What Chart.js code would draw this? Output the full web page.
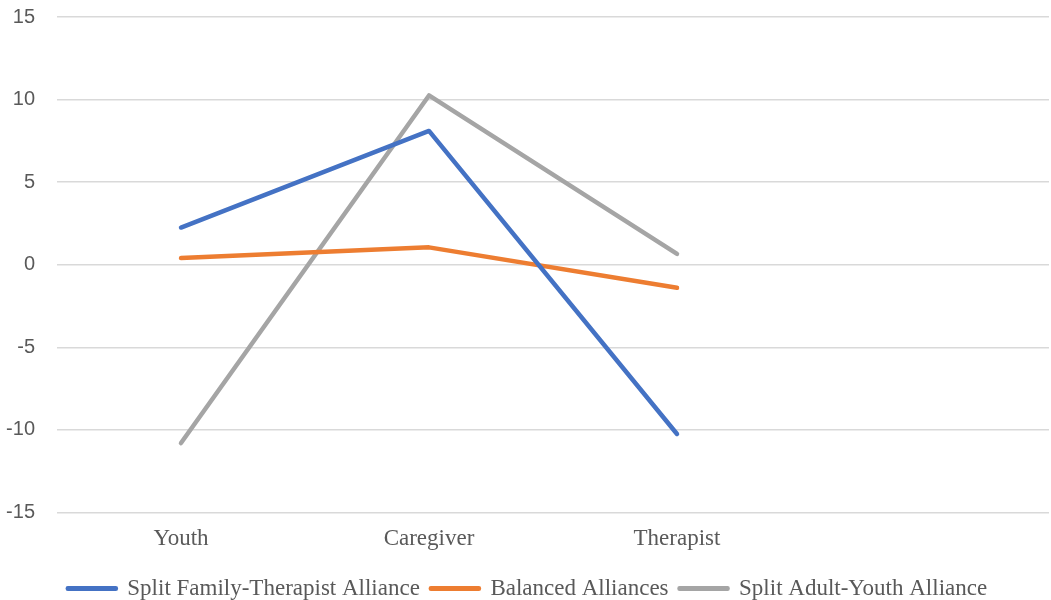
<!DOCTYPE html>
<html>
<head>
<meta charset="utf-8">
<script src="https://cdn.jsdelivr.net/npm/chart.js@4"></script>
<style>
  html, body { margin: 0; padding: 0; background: #fff; }
  #wrap { width: 1051px; height: 600px; }
</style>
</head>
<body>
<div id="wrap"><canvas id="grafico"></canvas></div>
<script>
// categorias (la cuarta queda vacia como en el original)
const categorias = ['Youth', 'Caregiver', 'Therapist', ''];

// series
const splitFamilia = [2.25, 8.1, -10.25];
const balanceadas = [0.4, 1.05, -1.4];
const splitAdulto = [-10.8, 10.25, 0.65];

const nombres = ['Split Family-Therapist Alliance', 'Balanced Alliances', 'Split Adult-Youth Alliance'];
const colores = ['#4472C4', '#ED7D31', '#A5A5A5'];

// ticks del eje y
const ejeMin = -15, ejeMax = 15, ejePaso = 5;

const fuenteSerif = '"Liberation Serif", "Times New Roman", serif';

const serie = (nombre, datos, color) => ({
  label: nombre,
  data: datos,
  borderColor: color,
  backgroundColor: color,
  borderWidth: 4.5,
  borderCapStyle: 'round',
  borderJoinStyle: 'round',
  pointRadius: 0,
  tension: 0
});

new Chart('grafico', {
  type: 'line',
  data: {
    labels: categorias,
    datasets: [
      serie(nombres[0], splitFamilia, colores[0]),
      serie(nombres[1], balanceadas, colores[1]),
      serie(nombres[2], splitAdulto, colores[2])
    ]
  },
  options: {
    responsive: true,
    maintainAspectRatio: false,
    animation: false,
    layout: { padding: { left: 6, right: 2, top: 17, bottom: -10 } },
    plugins: {
      tooltip: { enabled: false },
      legend: {
        position: 'bottom',
        labels: {
          boxWidth: 48,
          boxHeight: 0.5,
          padding: 11,
          color: '#595959',
          font: { family: fuenteSerif, size: 23 }
        }
      }
    },
    scales: {
      x: {
        offset: true,
        grid: { display: false, drawTicks: false },
        border: { display: false },
        ticks: {
          padding: 13,
          color: '#595959',
          maxRotation: 0,
          font: { family: fuenteSerif, size: 23 }
        }
      },
      y: {
        min: ejeMin,
        max: ejeMax,
        afterFit: (eje) => { eje.width = 51; },
        grid: { color: '#d9d9d9', lineWidth: 1.5, drawTicks: true, tickLength: 22, tickColor: 'rgba(0,0,0,0)' },
        border: { display: false },
        ticks: {
          stepSize: ejePaso,
          padding: 0,
          color: '#595959',
          font: { family: '"Liberation Sans", Arial, sans-serif', size: 20 }
        }
      }
    }
  }
});
</script>
</body>
</html>
